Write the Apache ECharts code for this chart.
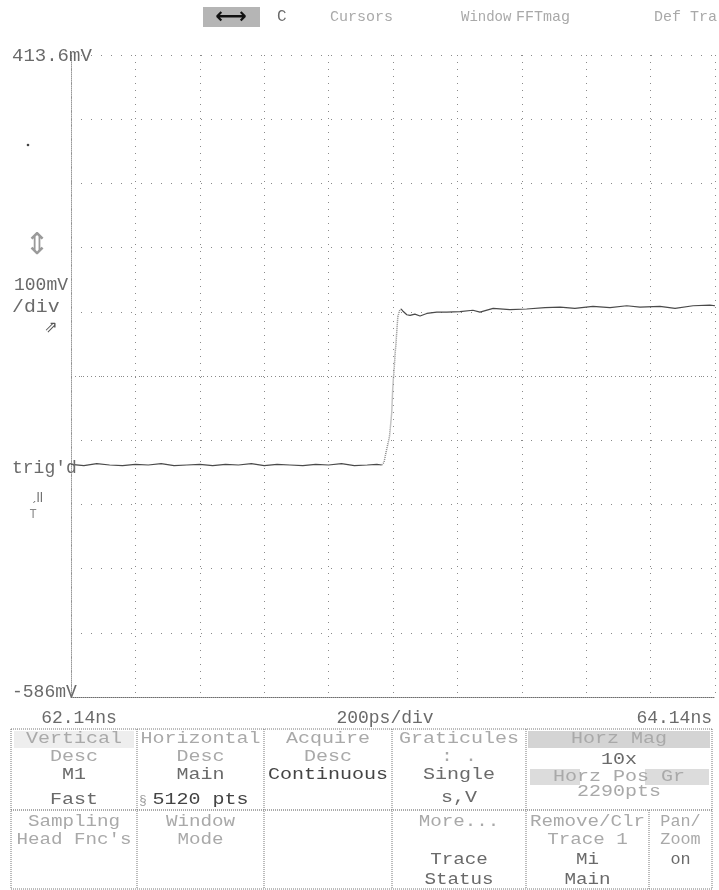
<!DOCTYPE html>
<html><head><meta charset="utf-8">
<script src="https://cdn.jsdelivr.net/npm/echarts@6/dist/echarts.min.js"></script>
<style>html,body{margin:0;padding:0;background:#fff}#c{width:719px;height:890px}</style>
</head><body><div id="c"></div><script>
// ---- data ----
// time axis: ps offset from left edge (62.14 ns), 200 ps/div
const timeLabels = ['62.14ns', '200ps/div', '64.14ns'];
const voltLabels = ['413.6mV', '100mV', '/div', '-586mV'];
const yTopMv = 413.6, yBottomMv = -586.4, yDivMv = 100;
const xSpanPs = 2000, xDivPs = 200;
const centerMv = -86.4;

// low (pre-edge) level
const lowT = [0, 40, 80, 120, 160, 200, 240, 280, 320, 360, 400, 440, 480, 520, 560, 600, 640, 680, 720, 760, 800, 840, 880, 920, 950, 965];
const lowV = [-224, -226, -223, -225, -226, -224, -225, -223, -226, -225, -224, -226, -224, -225, -223, -226, -224, -225, -226, -224, -225, -223, -226, -225, -224, -225];
// rising edge (sparse samples)
const riseT = [965, 972, 978, 989, 996, 999, 1001, 1004, 1007, 1009, 1012, 1015, 1020, 1025];
const riseV = [-225, -221, -206, -181, -144, -108, -92, -72, -48, -38, -15, 6, 15, 18];
// high (post-edge) level
const highT = [1025, 1032, 1043, 1053, 1068, 1084, 1105, 1136, 1167, 1208, 1248, 1270, 1311, 1363, 1415, 1472, 1519, 1565, 1621, 1674, 1726, 1767, 1829, 1876, 1932, 1984, 2000];
const highV = [18, 14, 9, 8, 10, 7, 11, 13, 13, 14, 16, 13, 19, 17, 18, 20, 21, 19, 22, 20, 23, 21, 22, 19, 23, 24, 23];

// menu texts
const headerItems = ['C', 'Cursors', 'Window', 'FFTmag', 'Def Tra'];
const menuRow1 = [
  ['Vertical', 'Desc', 'M1', 'Fast'],
  ['Horizontal', 'Desc', 'Main', '5120 pts'],
  ['Acquire', 'Desc', 'Continuous', ''],
  ['Graticules', ': .', 'Single', 's,V'],
  ['Horz Mag', '10x', 'Horz Pos Gr', '2290pts']
];
const menuRow2 = [
  ['Sampling', "Head Fnc's", '', ''],
  ['Window', 'Mode', '', ''],
  ['', '', '', ''],
  ['More...', '', 'Trace', 'Status'],
  ['Remove/Clr', 'Trace 1', 'Mi', 'Main'],
  ['Pan/', 'Zoom', 'on', '']
];

const zip = (a, b) => a.map((v, i) => [v, b[i]]);

// ---- drawing ----
const FONT = "'Liberation Mono', 'DejaVu Sans Mono', monospace";
const STIP = '#a9a9a9', MID = '#6a6a6a', DARK = '#444';
function T(text, x, y, o) {
  o = o || {};
  return {
    type: 'text', x: x, y: y, silent: true, z: 10,
    scaleX: o.sx || 1,
    style: {
      text: text, x: 0, y: 0,
      font: (o.w || 'normal') + ' ' + (o.size || 17) + 'px ' + (o.family || FONT),
      fill: o.fill || MID,
      textAlign: o.align || 'center', align: o.align || 'center',
      textVerticalAlign: 'middle', verticalAlign: 'middle'
    }
  };
}
function L(x1, y1, x2, y2, o) {
  o = o || {};
  return { type: 'line', silent: true, z: 5, shape: { x1: x1, y1: y1, x2: x2, y2: y2 },
    style: { stroke: o.stroke || '#777', lineWidth: 1, lineDash: o.dash || [1, 1] } };
}
function R(x, y, w, h, fill) {
  return { type: 'rect', silent: true, z: 4, shape: { x: x, y: y, width: w, height: h }, style: { fill: fill } };
}

const g = [];
// header bar
g.push(R(203, 7, 57, 20, '#b5b5b5'));
g.push(T('\u27F7', 231, 17, { size: 22, family: 'DejaVu Sans', fill: '#111', w: 'bold' }));
g.push(T(headerItems[0], 277, 17, { align: 'left', fill: MID, size: 16 }));
g.push(T(headerItems[1], 330, 17, { align: 'left', fill: STIP, size: 15 }));
g.push(T(headerItems[2], 461, 17, { align: 'left', fill: STIP, size: 14 }));
g.push(T(headerItems[3], 516, 17, { align: 'left', fill: STIP, size: 15 }));
g.push(T(headerItems[4], 654, 17, { align: 'left', fill: STIP, size: 15 }));

// left labels
g.push(T(voltLabels[0], 12, 56, { align: 'left', size: 19, fill: MID }));
g.push(T(voltLabels[1], 14, 285, { align: 'left', size: 18, fill: MID }));
g.push(T(voltLabels[2], 12, 307, { align: 'left', size: 18, fill: MID, sx: 1.1 }));
g.push(T(voltLabels[3], 12, 692, { align: 'left', size: 18, fill: MID }));
g.push(T("trig'd", 12, 468, { align: 'left', size: 18, fill: MID }));
g.push(T('\u21D5', 37, 246, { size: 30, family: 'DejaVu Sans', fill: '#9a9a9a' }));
g.push(T('\u21D7', 51, 328, { size: 16, family: 'DejaVu Sans', fill: '#555' }));
g.push(T('\u02CF\u01C0\u01C0', 37, 497, { size: 11, family: 'DejaVu Sans', fill: '#666' }));
g.push(T('T', 33, 515, { size: 12, fill: '#888' }));
g.push({ type: 'circle', silent: true, shape: { cx: 28, cy: 145, r: 1.3 }, style: { fill: '#444' } });

// bottom time labels
g.push(T(timeLabels[0], 79, 718, { size: 18 }));
g.push(T(timeLabels[1], 385, 718, { size: 18 }));
g.push(T(timeLabels[2], 712, 718, { size: 18, align: 'right' }));

// menu table
const tx = [11, 137, 264, 392, 526, 712];
const tTop = 729, tMid = 810, tBot = 889;
g.push(L(tx[0], tTop, tx[5], tTop));
g.push(L(tx[0], tMid, tx[5], tMid, { stroke: '#555' }));
g.push(L(tx[0], tBot, tx[5], tBot));
tx.forEach(x => g.push(L(x, tTop, x, tBot)));
g.push(L(649, tMid, 649, tBot));
// horz mag header boxes
g.push(R(528, 731, 182, 17, '#d4d4d4'));
g.push(R(530, 769, 50, 16, '#dcdcdc'));
g.push(R(645, 769, 64, 16, '#dcdcdc'));
g.push(R(14, 731, 120, 17, '#eeeeee'));

const rowY1 = [739, 757, 775, 800];
const colC1 = [74, 200.5, 328, 459, 619];
menuRow1.forEach((cell, ci) => {
  cell.forEach((s, ri) => {
    if (!s) return;
    let fill = ri < 2 ? STIP : MID;
    let y = rowY1[ri];
    if (ci === 4) { y = [739, 760, 777, 792][ri]; fill = [STIP, MID, STIP, STIP][ri]; }
    if (ci === 3 && ri === 3) y = 798;
    if ((ci === 1 && ri === 3) || (ci === 2 && ri === 2)) fill = DARK;
    g.push(T(s, colC1[ci], y, { size: 16, fill: fill, sx: 1.25 }));
  });
});
g.push(T('\u00A7', 143, 801, { size: 13, fill: '#999' }));
const rowY2 = [822, 840, 860, 880];
const colC2 = [74, 200.5, 328, 459, 587.5, 680.5];
menuRow2.forEach((cell, ci) => {
  cell.forEach((s, ri) => {
    if (!s) return;
    const fill = ri < 2 ? STIP : MID;
    g.push(T(s, colC2[ci], rowY2[ri], { size: 16, fill: fill, sx: ci === 5 ? 1.05 : 1.2 }));
  });
});

const chart = echarts.init(document.getElementById('c'), null, { renderer: 'canvas' });
chart.setOption({
  animation: false,
  backgroundColor: '#fff',
  grid: { left: 71, top: 55, right: 4, bottom: 193, containLabel: false },
  xAxis: {
    type: 'value', min: 0, max: xSpanPs, interval: xDivPs,
    axisLabel: { show: false }, axisTick: { show: false },
    axisLine: { show: true, onZero: false, lineStyle: { color: '#6e6e6e', type: [1, 1], width: 1 } },
    splitLine: { show: true, lineStyle: { color: '#8a8a8a', type: [1, 6], width: 1 } }
  },
  yAxis: {
    type: 'value', min: yBottomMv, max: yTopMv, interval: yDivMv,
    axisLabel: { show: false }, axisTick: { show: false },
    axisLine: { show: true, onZero: false, lineStyle: { color: '#9a9a9a', type: [1, 1], width: 1 } },
    splitLine: { show: true, lineStyle: { color: '#8a8a8a', type: [1, 9], width: 1 } }
  },
  series: [
    {
      type: 'line', data: zip(lowT, lowV), showSymbol: false, silent: true,
      lineStyle: { color: '#4a4a4a', width: 1.2 },
      markLine: { silent: true, symbol: 'none', label: { show: false },
        lineStyle: { color: '#8a8a8a', type: [1, 3], width: 1 }, data: [{ yAxis: centerMv }] }
    },
    {
      type: 'line', data: zip(riseT, riseV), showSymbol: false, silent: true,
      lineStyle: { color: '#8a8a8a', width: 1.5, type: [1, 1] }
    },
    {
      type: 'line', data: zip(highT, highV), showSymbol: false, silent: true,
      lineStyle: { color: '#4a4a4a', width: 1.2 }
    }
  ],
  graphic: g
});
</script></body></html>
